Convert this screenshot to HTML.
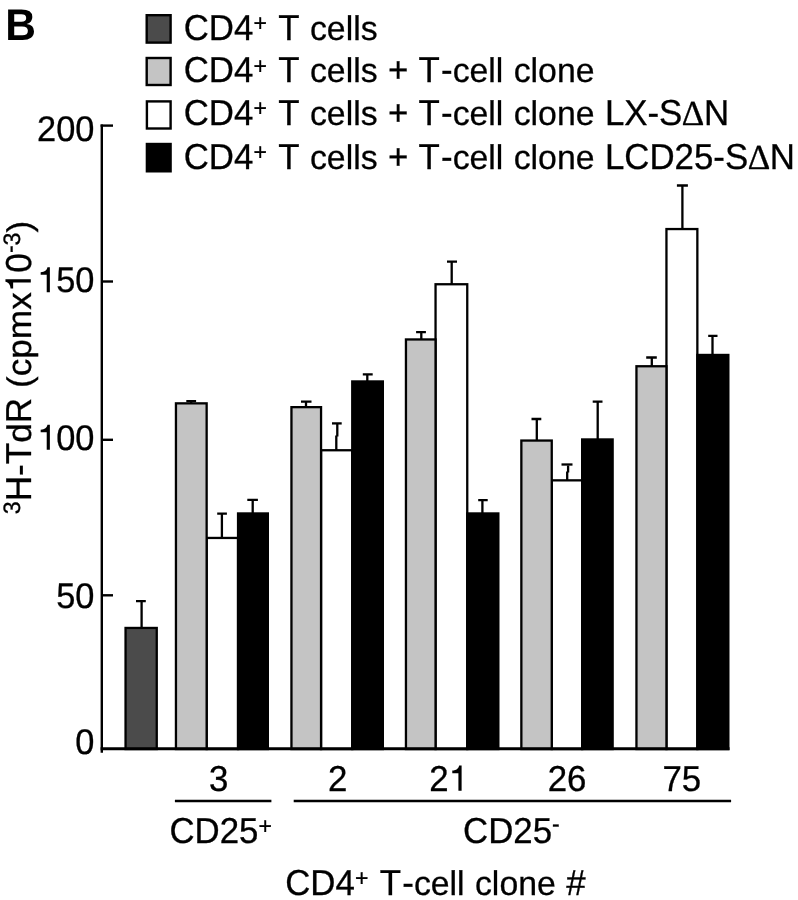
<!DOCTYPE html>
<html><head><meta charset="utf-8"><style>
html,body{margin:0;padding:0;background:#fff;width:798px;height:900px;overflow:hidden}
svg{display:block;filter:grayscale(1);text-rendering:geometricPrecision}
text{font-family:"Liberation Sans",sans-serif;font-kerning:none;white-space:pre}
</style></head><body>
<svg width="798" height="900" viewBox="0 0 798 900">
<g fill="#000" stroke="#000" stroke-width="0.3">
<text transform="translate(5.3 39.6) scale(0.955 1)" font-size="44.5" font-weight="bold" stroke="none">B</text>
<text transform="translate(183.70 39.70) scale(0.991 1.025)" font-size="35.17">CD4</text>
<text transform="translate(253.42 30.90) scale(0.991 1.025)" font-size="23.2">+</text>
<text transform="translate(278.36 39.70) scale(0.991 1.025)" font-size="35.17">T</text>
<text transform="translate(309.96 39.70) scale(0.962 0.972)" font-size="35.17">cells</text>
<text transform="translate(183.70 82.40) scale(0.991 1.025)" font-size="35.17">CD4</text>
<text transform="translate(253.42 73.60) scale(0.991 1.025)" font-size="23.2">+</text>
<text transform="translate(278.36 82.40) scale(0.991 1.025)" font-size="35.17">T</text>
<text transform="translate(309.96 82.40) scale(0.962 0.972)" font-size="35.17">cells</text>
<text transform="translate(387.95 82.40) scale(0.991 1.025)" font-size="35.17">+</text>
<text transform="translate(418.60 82.40) scale(0.991 1.025)" font-size="35.17">T</text>
<text transform="translate(441.02 82.40) scale(0.991 1.025)" font-size="35.17">-</text>
<text transform="translate(452.63 82.40) scale(0.962 0.972)" font-size="35.17">cell</text>
<text transform="translate(513.70 82.40) scale(0.962 0.972)" font-size="35.17">clone</text>
<text transform="translate(183.70 125.20) scale(0.991 1.025)" font-size="35.17">CD4</text>
<text transform="translate(253.42 116.40) scale(0.991 1.025)" font-size="23.2">+</text>
<text transform="translate(278.36 125.20) scale(0.991 1.025)" font-size="35.17">T</text>
<text transform="translate(309.96 125.20) scale(0.962 0.972)" font-size="35.17">cells</text>
<text transform="translate(387.95 125.20) scale(0.991 1.025)" font-size="35.17">+</text>
<text transform="translate(418.60 125.20) scale(0.991 1.025)" font-size="35.17">T</text>
<text transform="translate(441.02 125.20) scale(0.991 1.025)" font-size="35.17">-</text>
<text transform="translate(452.63 125.20) scale(0.962 0.972)" font-size="35.17">cell</text>
<text transform="translate(513.70 125.20) scale(0.962 0.972)" font-size="35.17">clone</text>
<text transform="translate(604.89 125.20) scale(0.991 1.025)" font-size="35.17">LX-S</text>
<text transform="translate(682.37 125.20) scale(1.0 1.0)" font-size="35.17" style="font-family:'Liberation Serif',serif">∆</text>
<text transform="translate(703.89 125.20) scale(0.991 1.025)" font-size="35.17">N</text>
<text transform="translate(183.70 168.50) scale(0.991 1.025)" font-size="35.17">CD4</text>
<text transform="translate(253.42 159.70) scale(0.991 1.025)" font-size="23.2">+</text>
<text transform="translate(278.36 168.50) scale(0.991 1.025)" font-size="35.17">T</text>
<text transform="translate(309.96 168.50) scale(0.962 0.972)" font-size="35.17">cells</text>
<text transform="translate(387.95 168.50) scale(0.991 1.025)" font-size="35.17">+</text>
<text transform="translate(418.60 168.50) scale(0.991 1.025)" font-size="35.17">T</text>
<text transform="translate(441.02 168.50) scale(0.991 1.025)" font-size="35.17">-</text>
<text transform="translate(452.63 168.50) scale(0.962 0.972)" font-size="35.17">cell</text>
<text transform="translate(513.70 168.50) scale(0.962 0.972)" font-size="35.17">clone</text>
<text transform="translate(604.89 168.50) scale(0.991 1.025)" font-size="35.17">LCD25-S</text>
<text transform="translate(748.23 168.50) scale(1.0 1.0)" font-size="35.17" style="font-family:'Liberation Serif',serif">∆</text>
<text transform="translate(769.75 168.50) scale(0.991 1.025)" font-size="35.17">N</text>
<text transform="translate(37.03 140.90) scale(0.991 1.025)" font-size="34.7">200</text>
<path d="M279 0H370V703H300C285 625 225 567 105 562V490H279Z" transform="translate(37.03 292.20) scale(0.03470 -0.03557)"/>
<text transform="translate(56.15 292.20) scale(0.991 1.025)" font-size="34.7">50</text>
<path d="M279 0H370V703H300C285 625 225 567 105 562V490H279Z" transform="translate(37.03 449.70) scale(0.03470 -0.03557)"/>
<text transform="translate(56.15 449.70) scale(0.991 1.025)" font-size="34.7">00</text>
<text transform="translate(56.15 607.80) scale(0.991 1.025)" font-size="34.7">50</text>
<text transform="translate(75.28 754.20) scale(0.991 1.025)" font-size="34.7">0</text>
<g transform="translate(30.8 514.2) rotate(-90)"><text transform="translate(0.00 -10.80) scale(1.0 1.025)" font-size="23.2">3</text>
<text transform="translate(12.90 0.00) scale(1.0 1.025)" font-size="35.17">H-T</text>
<text transform="translate(71.50 0.00) scale(1.0 0.972)" font-size="35.17">d</text>
<text transform="translate(91.06 0.00) scale(1.0 1.025)" font-size="35.17">R</text>
<text transform="translate(126.23 0.00) scale(1.0 0.972)" font-size="35.17">(cpmx</text>
<path d="M279 0H370V703H300C285 625 225 567 105 562V490H279Z" transform="translate(221.97 0.00) scale(0.03517 -0.03605)"/>
<text transform="translate(241.52 0.00) scale(1.0 1.025)" font-size="35.17">0</text>
<text transform="translate(261.08 -12.40) scale(1.0 1.025)" font-size="23.2">-</text>
<text transform="translate(268.81 -10.80) scale(1.0 1.025)" font-size="23.2">3</text>
<text transform="translate(281.71 0.00) scale(1.0 0.972)" font-size="35.17">)</text></g>
<text transform="translate(209.11 790.80) scale(0.991 1.025)" font-size="35.17">3</text>
<text transform="translate(327.91 790.80) scale(0.991 1.025)" font-size="35.17">2</text>
<text transform="translate(429.22 790.80) scale(0.991 1.025)" font-size="35.17">2</text>
<path d="M279 0H370V703H300C285 625 225 567 105 562V490H279Z" transform="translate(448.60 790.80) scale(0.03517 -0.03605)"/>
<text transform="translate(547.72 790.80) scale(0.991 1.025)" font-size="35.17">26</text>
<text transform="translate(662.42 790.80) scale(0.991 1.025)" font-size="35.17">75</text>
<text transform="translate(169.40 843.10) scale(0.991 1.025)" font-size="35.17">CD25</text>
<text transform="translate(258.51 834.30) scale(0.991 1.025)" font-size="23.2">+</text>
<text transform="translate(463.00 843.30) scale(0.991 1.025)" font-size="35.17">CD25</text>
<text transform="translate(552.11 831.50) scale(0.991 1.025)" font-size="23.2">-</text>
<text transform="translate(285.20 895.00) scale(0.991 1.025)" font-size="35.17">CD4</text>
<text transform="translate(354.92 886.20) scale(0.991 1.025)" font-size="23.2">+</text>
<text transform="translate(379.86 895.00) scale(0.991 1.025)" font-size="35.17">T</text>
<text transform="translate(402.28 895.00) scale(0.991 1.025)" font-size="35.17">-</text>
<text transform="translate(413.89 895.00) scale(0.962 0.972)" font-size="35.17">cell</text>
<text transform="translate(474.96 895.00) scale(0.962 0.972)" font-size="35.17">clone</text>
<text transform="translate(566.15 895.00) scale(0.991 1.025)" font-size="35.17">#</text>
</g>
<g stroke="#000" stroke-width="2.4">
<rect x="146.70" y="15.20" width="23.90" height="27.40" fill="#4b4b4b"/>
<rect x="146.70" y="58.00" width="23.90" height="27.00" fill="#c4c4c4"/>
<rect x="146.90" y="101.40" width="23.70" height="27.10" fill="#fff"/>
<rect x="146.90" y="144.00" width="23.70" height="27.30" fill="#000"/>
</g>
<g stroke="#000" stroke-width="2.4" fill="none">
<line x1="101.8" y1="124.4" x2="101.8" y2="752.8"/>
<line x1="100.6" y1="125.6" x2="113" y2="125.6"/>
<line x1="101" y1="281.5" x2="113" y2="281.5"/>
<line x1="101" y1="439.8" x2="113" y2="439.8"/>
<line x1="101" y1="595.3" x2="113" y2="595.3"/>
</g>
<g stroke="#000" stroke-width="2.3">
<rect x="125.55" y="627.95" width="31.20" height="121.10" fill="#4b4b4b"/>
<rect x="206.65" y="537.95" width="31.40" height="211.10" fill="#fff"/>
<rect x="175.95" y="403.35" width="30.70" height="345.70" fill="#c4c4c4"/>
<rect x="238.05" y="513.45" width="29.80" height="235.60" fill="#000"/>
<rect x="321.05" y="450.25" width="31.20" height="298.80" fill="#fff"/>
<rect x="291.45" y="407.15" width="29.60" height="341.90" fill="#c4c4c4"/>
<rect x="352.25" y="381.45" width="30.60" height="367.60" fill="#000"/>
<rect x="435.55" y="284.25" width="31.70" height="464.80" fill="#fff"/>
<rect x="405.95" y="339.45" width="29.60" height="409.60" fill="#c4c4c4"/>
<rect x="467.25" y="513.45" width="31.10" height="235.60" fill="#000"/>
<rect x="551.75" y="480.35" width="30.40" height="268.70" fill="#fff"/>
<rect x="521.35" y="440.55" width="30.40" height="308.50" fill="#c4c4c4"/>
<rect x="582.15" y="439.45" width="30.50" height="309.60" fill="#000"/>
<rect x="666.45" y="229.05" width="30.90" height="520.00" fill="#fff"/>
<rect x="636.45" y="366.25" width="30.00" height="382.80" fill="#c4c4c4"/>
<rect x="697.35" y="354.95" width="31.00" height="394.10" fill="#000"/>
</g>
<line x1="100.6" y1="748.8" x2="729.5" y2="748.8" stroke="#000" stroke-width="3"/>
<g stroke="#000" stroke-width="2.3" fill="none">
<path d="M337.3 424V436.5M336.3 435.5V450"/><path d="M568.1 465.5V472.5M567.2 471.5V480"/>
<path d="M141.6 627.5V601.1 M136.0 601.1H145.8"/>
<path d="M191.2 403.0V401.1 M186.3 401.1H196.1"/>
<path d="M221.9 538.0V513.7 M217.2 513.7H226.9"/>
<path d="M252.7 513.0V499.9 M247.3 499.9H257.9"/>
<path d="M306.0 407.0V401.6 M301.0 401.6H311.5"/>
<path d="M332.0 423.4H341.7"/>
<path d="M367.3 381.0V374.4 M362.8 374.4H372.7"/>
<path d="M421.3 339.0V332.1 M416.1 332.1H425.9"/>
<path d="M451.7 284.0V261.6 M447.0 261.6H457.0"/>
<path d="M482.4 513.0V500.1 M478.2 500.1H487.7"/>
<path d="M536.8 440.0V419.0 M531.5 419.0H541.3"/>
<path d="M561.5 464.5H572.5"/>
<path d="M597.7 439.0V401.6 M592.7 401.6H602.5"/>
<path d="M651.8 366.0V357.5 M646.2 357.5H656.8"/>
<path d="M682.4 229.0V185.5 M676.9 185.5H687.9"/>
<path d="M712.5 355.0V335.9 M708.2 335.9H717.5"/>
</g>
<g stroke="#000" stroke-width="2.6">
<line x1="174.9" y1="801" x2="271.4" y2="801"/>
<line x1="293.7" y1="801" x2="731.1" y2="801"/>
</g>
</svg>
</body></html>
